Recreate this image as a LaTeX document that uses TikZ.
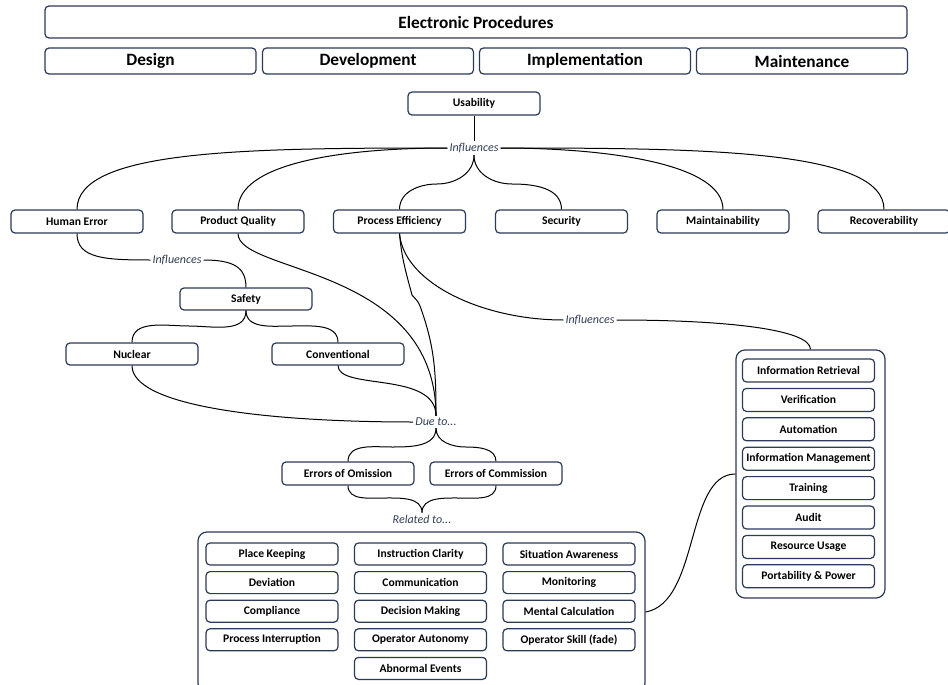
\documentclass[tikz,border=0pt]{standalone}
\usepackage{fontspec}
\setmainfont{Carlito}
\usetikzlibrary{positioning}
\definecolor{boxline}{HTML}{2B3A55}
\definecolor{lbltext}{HTML}{333F55}

\begin{document}
\begin{tikzpicture}[x=1pt,y=-1pt,
  box/.style={draw=boxline, line width=1.2pt, rounded corners=4pt, fill=white,
    inner sep=0pt, minimum width=132pt, minimum height=23pt,
    font=\bfseries\fontsize{11.6}{13}\selectfont},
  bigbox/.style={box, minimum height=26pt, font=\bfseries\fontsize{17.3}{19}\selectfont},
  frame/.style={draw=boxline, line width=1.2pt, rounded corners=9pt, inner sep=0pt},
  lbl/.style={fill=white, inner sep=2pt, text=lbltext, font=\itshape\fontsize{12}{13}\selectfont},
  link/.style={line width=1pt}]
  \clip (0,0) rectangle (948,685);

  % phases
  \node[bigbox, minimum width=862pt, minimum height=32pt] (ep) at (476,22) {Electronic Procedures};
  \node[bigbox, minimum width=211pt] (design) at (150.5,61) {Design};
  \node[bigbox, minimum width=211pt] (devel) at (368,61) {Development};
  \node[bigbox, minimum width=211pt] (impl) at (585,61) {Implementation};
  \node[bigbox, minimum width=211pt] (maint) at (802,61) {Maintenance};

  \node[box] (usab) at (474,103.5) {Usability};
  \node[lbl] (infA) at (474,148) {Influences};

  % qualities
  \node[box] (humerr) at (77,221.5) {Human Error};
  \node[box] (prodq) at (238,221.5) {Product Quality};
  \node[box] (proceff) at (399.5,221.5) {Process Efficiency};
  \node[box] (secur) at (561.5,221.5) {Security};
  \node[box] (maintb) at (723,221.5) {Maintainability};
  \node[box] (recov) at (884,221.5) {Recoverability};

  \node[lbl] (infB) at (177,260) {Influences};
  \node[box, minimum height=22pt] (safety) at (246,299) {Safety};
  \node[box, minimum height=22pt] (nuclear) at (132,354) {Nuclear};
  \node[box, minimum height=22pt] (convent) at (338,354) {Conventional};

  \node[lbl] (dueto) at (436,422) {Due to...};
  \node[box] (omis) at (348,473.5) {Errors of Omission};
  \node[box] (commis) at (496,473.5) {Errors of Commission};
  \node[lbl] (relto) at (422,519) {Related to...};

  \node[lbl] (infC) at (590,320) {Influences};

  % right group
  \node[frame, minimum width=149pt, minimum height=248pt] (rgrp) at (810.5,474) {};
  \foreach \t [count=\i from 0] in {Information Retrieval, Verification, Automation,
      Information Management, Training, Audit, Resource Usage, Portability \& Power}
    \node[box] (r\i) at (808.5,370.5+29.4*\i) {\t};

  % bottom group
  \node[frame, minimum width=447pt, minimum height=160pt] (bgrp) at (421.5,612) {};
  \foreach \t [count=\i from 0] in {Place Keeping, Deviation, Compliance, Process Interruption}
    \node[box, minimum height=22pt] (a\i) at (272,554+28.6*\i) {\t};
  \foreach \t [count=\i from 0] in {Instruction Clarity, Communication, Decision Making,
      Operator Autonomy, Abnormal Events}
    \node[box, minimum height=22pt] (b\i) at (420.5,554+28.6*\i) {\t};
  \foreach \t [count=\i from 0] in {Situation Awareness, Monitoring, Mental Calculation,
      Operator Skill (fade)}
    \node[box, minimum height=22pt] (c\i) at (569,554+28.6*\i) {\t};

  % links
  \draw[link] (usab.south) -- (infA.north);
  \draw[link] (infA.west) to[out=180,in=90,out distance=200pt,in distance=60pt] (humerr.north);
  \draw[link] (infA.west) to[out=180,in=90,out distance=110pt,in distance=45pt] (prodq.north);
  \draw[link] (infA.south) to[out=-90,in=0] (437,184) to[out=180,in=90] (proceff.north);
  \draw[link] (infA.south) to[out=-90,in=180] (512,184) to[out=0,in=90] (secur.north);
  \draw[link] (infA.east) to[out=0,in=90,out distance=110pt,in distance=45pt] (maintb.north);
  \draw[link] (infA.east) to[out=0,in=90,out distance=200pt,in distance=60pt] (recov.north);

  \draw[link] (humerr.south) to[out=-90,in=180,out distance=25pt,in distance=45pt] (infB.west);
  \draw[link] (infB.east) to[out=0,in=90,out distance=30pt,in distance=20pt] (safety.north);
  \draw[link] (safety.south) to[out=-90,in=0] (189,326) to[out=180,in=90] (nuclear.north);
  \draw[link] (safety.south) to[out=-90,in=180] (292,326) to[out=0,in=90] (convent.north);

  \draw[link] (nuclear.south) to[out=-90,in=180,out distance=40pt,in distance=150pt] (dueto.west);
  \draw[link] (convent.south) to[out=-90,in=90,out distance=25pt,in distance=45pt] (dueto.north);
  \draw[link] (prodq.south) to[out=-90,in=90,out distance=40pt,in distance=150pt] (dueto.north);
  \draw[link] (proceff.south) to[out=-85,in=105] (412,295) to[out=-50,in=110] (420,306)
    to[out=-70,in=90] (dueto.north);
  \draw[link] (proceff.south) to[out=-85,in=180,out distance=50pt,in distance=80pt] (infC.west);
  \draw[link] (infC.east) to[out=0,in=90,out distance=110pt,in distance=20pt] (rgrp.north);

  \draw[link] (dueto.south) to[out=-90,in=0] (392,447) to[out=180,in=90] (omis.north);
  \draw[link] (dueto.south) to[out=-90,in=180] (466,447) to[out=0,in=90] (commis.north);
  \draw[link] (omis.south) to[out=-90,in=180] (385,498) to[out=0,in=90] (relto.north);
  \draw[link] (commis.south) to[out=-90,in=0] (459,498) to[out=180,in=90] (relto.north);

  \draw[link] (bgrp.east) to[out=10,in=180,out distance=55pt,in distance=50pt] (rgrp.west);
\end{tikzpicture}
\end{document}
